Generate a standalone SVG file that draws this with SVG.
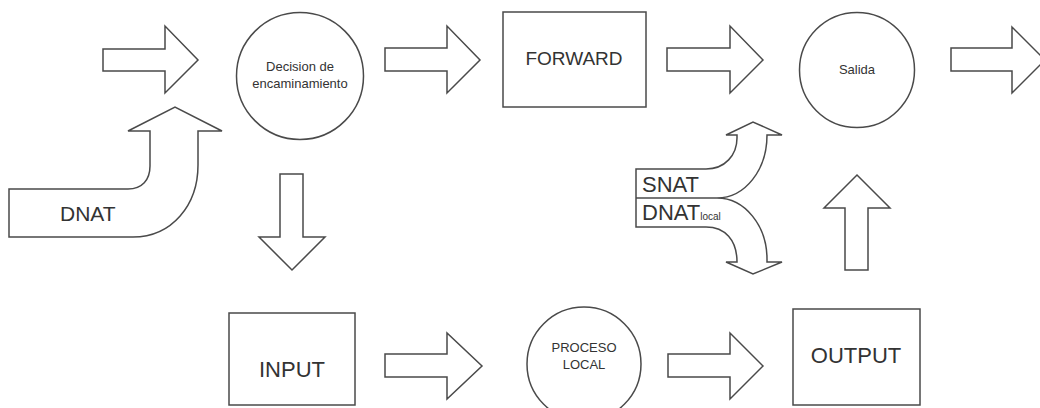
<svg xmlns="http://www.w3.org/2000/svg" width="1040" height="408" viewBox="0 0 1040 408">
<style>
.s{fill:#fff;stroke:#4a4a4a;stroke-width:1.5;stroke-linejoin:miter}
.t{font-family:"Liberation Sans",Arial,sans-serif;fill:#333;text-anchor:middle}
.l{font-family:"Liberation Sans",Arial,sans-serif;fill:#333}
</style>
<rect width="1040" height="408" fill="#fff"/>
<g id="connectors">
<polygon class="s" points="103,49 165,49 165,26 198,60 165,93 165,71 103,71"/>
<polygon class="s" points="385,48 447,48 447,26 480,60 447,93 447,71 385,71"/>
<polygon class="s" points="667,48 730,48 730,26 763,60 730,93 730,71 667,71"/>
<polygon class="s" points="951,48 1012,48 1012,27 1045,60 1012,93 1012,71 951,71"/>
<polygon class="s" points="280,174 303,174 303,237 325,237 292,270 259,237 280,237"/>
<polygon class="s" points="385,354 447,354 447,333 482,366 447,399 447,377 385,377"/>
<polygon class="s" points="668,354 730,354 730,333 763,366 730,399 730,377 668,377"/>
<polygon class="s" points="845,270 845,208 824,208 857,175 890,208 868,208 868,270"/>
<g id="dnat-arrow">
<path class="s" d="M9,189 L128,189 C142,189 150,180 150,166 L150,131 L128,131 L175,107 L222,131 L198,131 L198,165 C198,205 172,237 133,237 L9,237 Z"/>
<text class="l" x="60" y="221" font-size="21">DNAT</text>
</g>
<g id="snat-arrow">
<path class="s" d="M636,169 L706,169 C725,169 737,155 737,138 L737,135 L726,135 L753,122 L782,135 L767,135 C767,170 745,198 717,198 C745,198 767,226 767,259 L767,262 L782,262 L753,274 L726,262 L737,262 C737,240 725,227 706,227 L636,227 Z"/>
<line class="s" x1="636" y1="198" x2="717" y2="198"/>
<text class="l" x="642" y="192" font-size="22">SNAT</text>
<text class="l" x="642" y="220" font-size="22">DNAT<tspan font-size="10">local</tspan></text>
</g>
</g>
<g id="decision">
<circle class="s" cx="300" cy="76" r="63.5"/>
<text class="t" x="300" y="71" font-size="13">Decision de</text>
<text class="t" x="300" y="88" font-size="13">encaminamiento</text>
</g>
<g id="forward">
<rect class="s" x="503" y="12" width="143" height="95"/>
<text class="t" x="574" y="65" font-size="19">FORWARD</text>
</g>
<g id="salida">
<circle class="s" cx="857" cy="70" r="57.5"/>
<text class="t" x="857" y="74" font-size="13">Salida</text>
</g>
<g id="input">
<rect class="s" x="229" y="313" width="126" height="92"/>
<text class="t" x="292" y="377" font-size="22">INPUT</text>
</g>
<g id="proceso">
<circle class="s" cx="584" cy="364" r="57"/>
<text class="t" x="584" y="352" font-size="13">PROCESO</text>
<text class="t" x="584" y="369" font-size="13">LOCAL</text>
</g>
<g id="output">
<rect class="s" x="793" y="309" width="127" height="96"/>
<text class="t" x="856" y="363" font-size="22">OUTPUT</text>
</g>
</svg>
